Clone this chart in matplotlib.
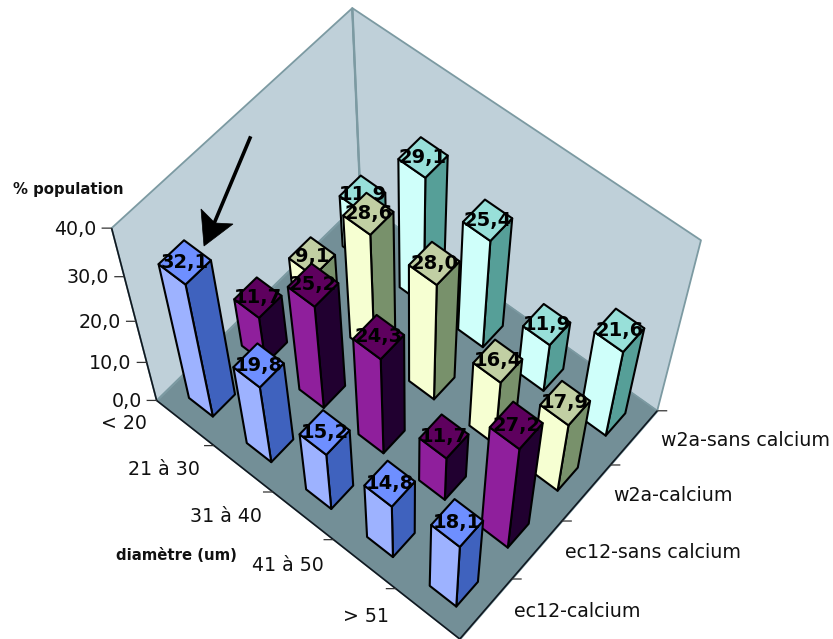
import numpy as np
import matplotlib
matplotlib.use("Agg")
import matplotlib.pyplot as plt
from matplotlib.patches import Polygon
from matplotlib.lines import Line2D
from mpl_toolkits.mplot3d.art3d import Poly3DCollection, Line3DCollection

W, H = 833, 639

diameters = ["< 20", "21 à 30", "31 à 40", "41 à 50", "> 51"]
series_names = ["ec12-calcium", "ec12-sans calcium", "w2a-calcium", "w2a-sans calcium"]
ec12_calcium = [32.1, 19.8, 15.2, 14.8, 18.1]
ec12_sans_calcium = [11.7, 25.2, 24.3, 11.7, 27.2]
w2a_calcium = [9.1, 28.6, 28.0, 16.4, 17.9]
w2a_sans_calcium = [11.9, 29.1, 25.4, 11.9, 21.6]
series_values = [ec12_calcium, ec12_sans_calcium, w2a_calcium, w2a_sans_calcium]
z_ticks = [0, 10, 20, 30, 40]
z_max = 40

# face colours per series: front (-y), top, side (+x)
bar_colors = [
    ("#9DB2FF", "#6E8FFF", "#3F62BE"),
    ("#8F1F9C", "#5E005E", "#210030"),
    ("#F6FFD2", "#C1CFA3", "#78916B"),
    ("#CFFFFA", "#98E0D9", "#569F98"),
]
WALL = "#BFD0D9"
FLOOR = "#738F97"
WALL_EDGE = "#7C9AA2"
half = 0.208
label_size = 13.7
value_size = 14
title_size = 10.7
tick_px = 10
# pixel nudges of the category labels from their rule-based anchor
x_label_nudge = [(0, -4), (-17, -4), (-14, -4), (-13, -4), (3, -3)]

# Camera calibration: box coordinates -> image pixels (least-squares DLT)
n_x, n_y = len(diameters), len(series_names)
calib = [
    ((0, 0, 0), (156, 400)), ((n_x, 0, 0), (460, 639)),
    ((0, n_y, 0), (361, 201)), ((n_x, n_y, 0), (657, 411)),
    ((0, 0, 40), (112, 228)), ((0, n_y, 40), (352, 8)),
    ((n_x, n_y, 40), (701, 240)), ((0, 0, 30), (124, 277)),
    ((0, 0, 20), (136, 322)), ((0, 0, 10), (147, 362)),
]
rows = []
for (X, Y, Z), (u, v) in calib:
    rows.append([X, Y, Z, 1, 0, 0, 0, 0, -u * X, -u * Y, -u * Z, -u])
    rows.append([0, 0, 0, 0, X, Y, Z, 1, -v * X, -v * Y, -v * Z, -v])
P = np.linalg.svd(np.array(rows, float))[2][-1].reshape(3, 4)
if (P[2] @ np.array([2.5, 2, 0, 1])) < 0:
    P = -P
w_mean = P[2] @ np.array([2.5, 2, 0, 1])


def to_pixel(x, y, z):
    h = P @ np.array([x, y, z, 1.0])
    return np.array([h[0] / h[2], h[1] / h[2]])


def tick_segment(x, y, z, px_dx):
    """3D segment from (x, y, z) whose image is a horizontal stroke of px_dx pixels."""
    eps = 1e-3
    p0 = to_pixel(x, y, z)
    J = np.column_stack([(to_pixel(x + eps, y, z) - p0) / eps,
                         (to_pixel(x, y + eps, z) - p0) / eps])
    dx, dy = np.linalg.solve(J, [px_dx, 0.0])
    return [(x, y, z), (x + dx, y + dy, z)]


fig = plt.figure(figsize=(W / 100, H / 100), dpi=100, facecolor="white")
ax = fig.add_axes([0, (H - W) / 2 / H, 1, W / H], projection="3d", computed_zorder=False)
ax.set_axis_off()


def get_proj():
    A = ax.transData.inverted().get_matrix()
    u_row = P[0]
    v_row = H * P[2] - P[1]
    w_row = P[2]
    x_row = A[0, 0] * u_row + A[0, 1] * v_row + A[0, 2] * w_row
    y_row = A[1, 0] * u_row + A[1, 1] * v_row + A[1, 2] * w_row
    z_row = w_row - np.array([0, 0, 0, 0.5 * w_mean])
    return np.array([x_row, y_row, z_row, w_row])


ax.get_proj = get_proj


def label(x, y, z, s, dx=0, dy=0, **kw):
    px, py = to_pixel(x, y, z)
    return ax.text2D((px + dx) / W, 1 - (py + dy) / H, s, transform=fig.transFigure, **kw)


def segments(segs, color, lw, zorder):
    ax.add_collection3d(Line3DCollection(segs, colors=color, linewidths=lw, zorder=zorder),
                        autolim=False)


# walls and floor
floor = [[(0, 0, 0), (n_x, 0, 0), (n_x, n_y, 0), (0, n_y, 0)]]
walls = [[(0, 0, 0), (0, n_y, 0), (0, n_y, z_max), (0, 0, z_max)],
         [(0, n_y, 0), (n_x, n_y, 0), (n_x, n_y, z_max), (0, n_y, z_max)]]
ax.add_collection3d(Poly3DCollection(walls, facecolors=WALL, edgecolors=WALL_EDGE,
                                     linewidths=1.3, zorder=1), autolim=False)
ax.add_collection3d(Poly3DCollection(floor, facecolors=FLOOR, edgecolors=WALL_EDGE,
                                     linewidths=1.0, zorder=2), autolim=False)
segments([[(0, n_y, 0), (0, n_y, z_max)]], WALL_EDGE, 1.7, 3)
segments([[(0, 0, 0), (0, 0, z_max)],
          [(0, 0, 0), (n_x, 0, 0)],
          [(n_x, 0, 0), (n_x, n_y, 0)]], "#101820", 1.2, 3)

# axis ticks (short horizontal strokes)
tick_segs = [tick_segment(0, 0, z, -tick_px) for z in z_ticks]
tick_segs += [tick_segment(i, 0, 0, -tick_px) for i in range(1, n_x)]
tick_segs += [tick_segment(n_x, j, 0, tick_px) for j in range(1, n_y + 1)]
segments(tick_segs, "#333333", 0.9, 3)

for z in z_ticks:
    label(0, 0, z, f"{z:.1f}".replace(".", ","), dx=-15, dy=1, ha="right", va="center",
          fontsize=label_size, color="#111111", zorder=3)
for i, name in enumerate(diameters):
    label(i + 0.5 - 0.55, -0.55, 0, name, dx=x_label_nudge[i][0], dy=x_label_nudge[i][1],
          ha="center", va="center", fontsize=label_size, color="#111111", zorder=3)
for j, name in enumerate(series_names):
    label(n_x + 0.26, j + 0.5 + 0.26, 0, name, dx=-2, dy=5, ha="left", va="center",
          fontsize=label_size, color="#111111", zorder=3)

# bars, painted from the far corner to the near corner
for j, values in enumerate(series_values):
    front, top, side = bar_colors[j]
    for i, val in enumerate(values):
        x0, x1 = i + 0.5 - half, i + 0.5 + half
        y0, y1 = j + 0.5 - half, j + 0.5 + half
        faces = [
            [(x0, y0, 0), (x1, y0, 0), (x1, y0, val), (x0, y0, val)],
            [(x1, y0, 0), (x1, y1, 0), (x1, y1, val), (x1, y0, val)],
            [(x0, y0, val), (x1, y0, val), (x1, y1, val), (x0, y1, val)],
        ]
        order = 10 + 2 * (i - j + n_y)
        ax.add_collection3d(Poly3DCollection(faces, facecolors=[front, side, top],
                                             edgecolors="black", linewidths=1.5,
                                             zorder=order), autolim=False)
        label(i + 0.5, j + 0.5, val, f"{val:.1f}".replace(".", ","), ha="center", va="center",
              fontsize=value_size, fontweight="bold", color="black", zorder=order + 1)

# axis titles
fig.text(68 / W, 1 - 189 / H, "% population", ha="center", va="center",
         fontsize=title_size, fontweight="bold", color="#111111")
fig.text(176 / W, 1 - 556 / H, "diamètre (um)", ha="center", va="center",
         fontsize=title_size, fontweight="bold", color="#111111")

# hand-drawn arrow annotation
to_fig = lambda pts: [(x / W, 1 - y / H) for x, y in pts]
shaft = to_fig([(250, 138), (213, 226)])
fig.add_artist(Line2D([p[0] for p in shaft], [p[1] for p in shaft], color="black", lw=2.6,
                      transform=fig.transFigure, zorder=50))
fig.add_artist(Polygon(to_fig([(204, 246), (201, 209), (215, 223), (233, 224)]), closed=True,
                       facecolor="black", edgecolor="black", lw=0.5,
                       transform=fig.transFigure, zorder=50))

fig.savefig("out.png", dpi=100)
